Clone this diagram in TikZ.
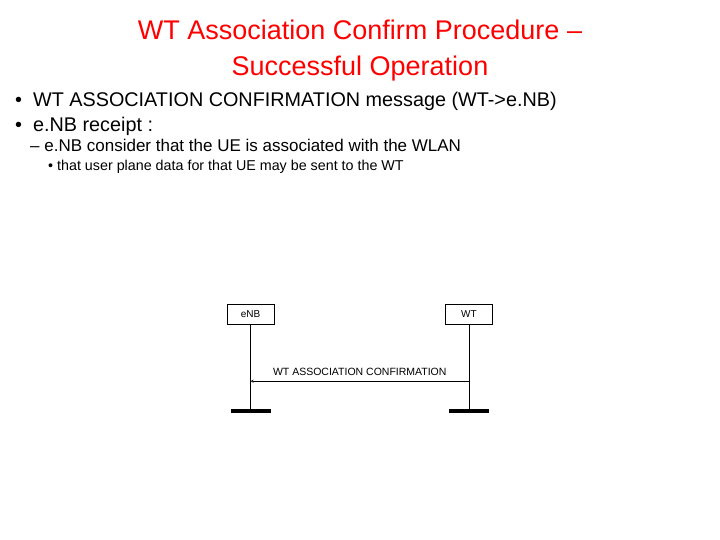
\documentclass[tikz,border=0pt]{standalone}
\usepackage{fontspec}
\setmainfont{Liberation Sans}
\usetikzlibrary{positioning}
\begin{document}
\begin{tikzpicture}[x=1pt,y=-1pt]
        \tikzstyle{entitybox}=[draw, thin, minimum width=47pt, minimum height=20pt, inner sep=0pt, font=\fontsize{10}{12}\selectfont]
        \tikzstyle{bulletline}=[anchor=base west, inner sep=0pt, font=\fontsize{19.8}{22}\selectfont]
        \useasboundingbox (0,0) rectangle (720,540);
        \node[red, align=center, font=\fontsize{27}{36}\selectfont] (title) at (360,51) {WT Association Confirm Procedure --\\Successful Operation};
        \node[bulletline] (b1) at (15,107) {\textbullet\ \ WT ASSOCIATION CONFIRMATION message (WT-\textgreater e.NB)};
        \node[bulletline] (b2) at (15,132) {\textbullet\ \ e.NB receipt :};
        \node[bulletline, font=\fontsize{17}{20}\selectfont] (b3) at (30,152) {-- e.NB consider that the UE is associated with the WLAN};
        \node[bulletline, font=\fontsize{14.3}{17}\selectfont] (b4) at (48,171) {\textbullet\ that user plane data for that UE may be sent to the WT};
        \node[entitybox] (enb) at (250.5,314) {eNB};
        \node[entitybox] (wt) at (469,314) {WT};
        \foreach \e in {enb,wt} {
            \coordinate (\e end) at ([yshift=-87pt]\e.south);
            \draw[thin] (\e.south) -- (\e end);
            \draw[line width=4pt] ([xshift=-20pt]\e end) -- ([xshift=20pt]\e end);
        }
        \coordinate (msgs) at ([yshift=-57pt]wt.south);
        \coordinate (msge) at ([yshift=-57pt]enb.south);
        \draw[->, >=stealth, thin] (msgs) -- (msge)
            node[midway, above=2pt, font=\fontsize{10.5}{12}\selectfont] (msg) {WT ASSOCIATION CONFIRMATION};
      \end{tikzpicture}
\end{document}
